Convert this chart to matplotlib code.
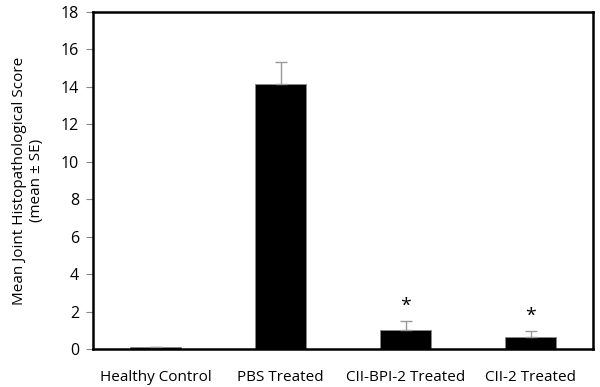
import matplotlib.pyplot as plt

plt.rcParams['font.family'] = ['Open Sans', 'DejaVu Sans']

# groups and their mean / standard error
groups = ['Healthy Control', 'PBS Treated', 'CII-BPI-2 Treated', 'CII-2 Treated']
means = [0.1, 14.15, 1.0, 0.65]
errors = [0.0, 1.2, 0.5, 0.33]
stars = ['', '', '*', '*']

fig = plt.figure(figsize=(6, 3.87), dpi=100)
ax = fig.add_axes([93 / 600, 1 - 349 / 387, 500 / 600, 337 / 387])

x = range(len(groups))
ax.bar(x, means, width=0.41, color='black', edgecolor='#888888', linewidth=0.6)
ax.errorbar(x, means, yerr=[[0] * len(errors), errors], fmt='none',
            ecolor='#999999', elinewidth=1, capsize=4, capthick=1)

for i, s in enumerate(stars):
    if s:
        ax.text(i, means[i] + errors[i] + 0.3, s, ha='center', va='bottom', fontsize=14)

ax.set_xlim(-0.5, 3.5)
ax.set_ylim(0, 18)
ax.set_yticks(range(0, 19, 2))
ax.set_xticks(list(x))
ax.set_xticklabels(groups, fontsize=11)
ax.tick_params(axis='x', length=0, pad=15)
ax.tick_params(axis='y', length=5, width=0.8, color='#888888', labelsize=11.5, pad=5)
for sp in ax.spines.values():
    sp.set_linewidth(1.8)
ax.set_ylabel('Mean Joint Histopathological Score\n(mean ± SE)', fontsize=11, labelpad=12)

fig.savefig('out.png')
